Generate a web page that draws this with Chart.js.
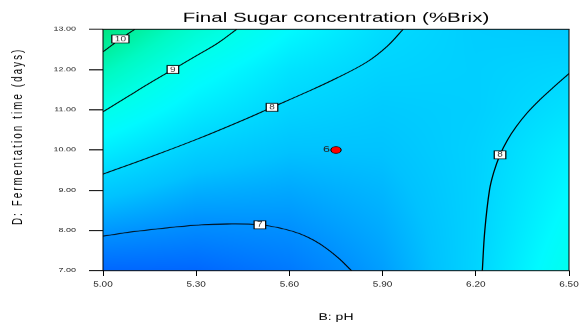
<!DOCTYPE html>
<html>
<head>
<meta charset="utf-8">
<title>Final Sugar concentration (%Brix)</title>
<script src="https://cdn.jsdelivr.net/npm/chart.js@4.4.1/dist/chart.umd.min.js"></script>
<style>
  html, body { margin: 0; padding: 0; background: #fff; overflow: hidden; }
</style>
</head>
<body>
<!-- drawn tall, shown squeezed to 326px like the Design-Expert export -->
<canvas id="sugarChart" width="579" height="489" style="width:579px;height:326px;display:block"></canvas>
<script>
// axis ticks
const phTicks = [5.00, 5.30, 5.60, 5.90, 6.20, 6.50];
const dayTicks = [7, 8, 9, 10, 11, 12, 13];

// contour lines as [pH, days]
const contour10 = [[5.00, 12.44], [5.056, 12.76], [5.102, 13.00]];
const contour9 = [[5.00, 10.95], [5.08, 11.33], [5.15, 11.66], [5.225, 12.00], [5.30, 12.34], [5.37, 12.66], [5.43, 13.00]];
const contour8Upper = [[5.00, 9.40], [5.15, 9.82], [5.30, 10.26], [5.45, 10.74], [5.544, 11.06], [5.65, 11.42],
                       [5.75, 11.78], [5.85, 12.19], [5.915, 12.58], [5.966, 13.00]];
const contour8Right = [[6.221, 7.00], [6.229, 8.00], [6.244, 9.00], [6.258, 9.45], [6.278, 9.88], [6.302, 10.25],
                       [6.33, 10.58], [6.365, 10.92], [6.405, 11.24], [6.45, 11.56], [6.50, 11.90]];
const contour7 = [[5.00, 7.86], [5.10, 7.97], [5.20, 8.06], [5.30, 8.13], [5.40, 8.16], [5.505, 8.14], [5.58, 8.04],
                  [5.633, 7.92], [5.68, 7.75], [5.72, 7.55], [5.76, 7.30], [5.80, 7.00]];

const contourPaths = [contour10, contour9, contour8Upper, contour8Right, contour7];
const contourLevels = [10, 9, 8, 8, 7];
const contourLabelAt = [1, 3, 4, 4, 5];

// design centre point and its replicate count
const centerPoint = [5.75, 10.00];
const centerReplicates = 6;

// predicted %Brix on a coarse B/D grid, used for the shading
const gridPH = [5.0, 5.3, 5.6, 5.9, 6.2, 6.5];
const gridDays = [7, 8, 9, 10, 11, 12, 13];
const brixGrid = [
    [6.44, 6.44, 6.70, 7.19, 7.94, 8.94],
    [7.12, 6.94, 7.01, 7.33, 7.91, 8.75],
    [7.74, 7.39, 7.30, 7.47, 7.90, 8.58],
    [8.39, 7.87, 7.62, 7.62, 7.89, 8.41],
    [9.03, 8.36, 7.94, 7.76, 7.84, 8.17],
    [9.70, 8.80, 8.22, 7.93, 7.85, 7.97],
    [10.38, 9.37, 8.62, 8.09, 7.82, 7.75]
];

// blue -> cyan -> green colour ramp
const shadeLevels = [6.4, 7.0, 7.6, 8.0, 8.6, 9.0, 9.6, 10.0, 10.4];
const shadeColors = [
    [0, 100, 255], [0, 142, 255], [0, 194, 255], [0, 215, 255], [0, 250, 255],
    [0, 255, 235], [0, 250, 195], [0, 240, 160], [0, 228, 128]
];

const FONT = '"Liberation Sans", Arial, sans-serif';

function lerp(a, b, t) {
    return a + (b - a) * t;
}

function findCell(axis, v) {
    let i = 0;
    while (i < axis.length - 2 && v > axis[i + 1]) i++;
    const t = (v - axis[i]) / (axis[i + 1] - axis[i]);
    return [i, Math.min(1, Math.max(0, t))];
}

function brixAt(ph, days) {
    const [i, u] = findCell(gridPH, ph);
    const [j, v] = findCell(gridDays, days);
    const lo = lerp(brixGrid[j][i], brixGrid[j][i + 1], u);
    const hi = lerp(brixGrid[j + 1][i], brixGrid[j + 1][i + 1], u);
    return lerp(lo, hi, v);
}

function shade(value) {
    const [k, t] = findCell(shadeLevels, value);
    return shadeColors[k].map((c, n) => Math.round(lerp(c, shadeColors[k + 1][n], t)));
}

// text with extra room between the letters, centred on (0, 0)
function spacedText(ctx, text, gap) {
    const widths = [...text].map(ch => ctx.measureText(ch).width);
    const total = widths.reduce((s, w) => s + w, 0) + gap * (widths.length - 1);
    let pos = -total / 2;
    [...text].forEach((ch, i) => {
        ctx.fillText(ch, pos, 0);
        pos += widths[i] + gap;
    });
}

// paints the response surface behind the contour lines
const responseShading = {
    id: 'responseShading',
    beforeDatasetsDraw(chart) {
        const { ctx, chartArea: area, scales: { x, y } } = chart;
        const w = Math.round(area.right - area.left);
        const h = Math.round(area.bottom - area.top);
        const off = document.createElement('canvas');
        off.width = w;
        off.height = h;
        const octx = off.getContext('2d');
        const img = octx.createImageData(w, h);
        for (let py = 0; py < h; py++) {
            const days = y.getValueForPixel(area.top + py + 0.5);
            for (let px = 0; px < w; px++) {
                const ph = x.getValueForPixel(area.left + px + 0.5);
                const rgb = shade(brixAt(ph, days));
                const o = (py * w + px) * 4;
                img.data[o] = rgb[0];
                img.data[o + 1] = rgb[1];
                img.data[o + 2] = rgb[2];
                img.data[o + 3] = 255;
            }
        }
        octx.putImageData(img, 0, 0);
        ctx.drawImage(off, area.left, area.top);
    }
};

// frame, contour labels, replicate count and the vertical axis title
const plotDecorations = {
    id: 'plotDecorations',
    afterDatasetsDraw(chart) {
        const { ctx, chartArea: a, scales: { x, y } } = chart;
        const seg = (x1, y1, x2, y2) => {
            ctx.beginPath();
            ctx.moveTo(x1, y1);
            ctx.lineTo(x2, y2);
            ctx.stroke();
        };
        ctx.save();
        ctx.strokeStyle = '#000';
        ctx.lineWidth = 1.5;
        seg(a.left - 0.5, a.top, a.right + 0.5, a.top);
        seg(a.left - 0.5, a.bottom, a.right + 0.5, a.bottom);
        ctx.lineWidth = 1;
        seg(a.left, a.top, a.left, a.bottom);
        seg(a.right, a.top, a.right, a.bottom);

        ctx.font = '10px ' + FONT;
        ctx.textAlign = 'center';
        ctx.textBaseline = 'middle';
        contourPaths.forEach((path, k) => {
            const [ph, days] = path[contourLabelAt[k]];
            const px = x.getPixelForValue(ph);
            const py = y.getPixelForValue(days);
            const text = String(contourLevels[k]);
            const bw = ctx.measureText(text).width + 6;
            const bh = 12;
            ctx.fillStyle = '#fff';
            ctx.fillRect(px - bw / 2, py - bh / 2, bw, bh);
            ctx.lineWidth = 1.2;
            ctx.strokeRect(px - bw / 2, py - bh / 2, bw, bh);
            ctx.fillStyle = '#333';
            ctx.fillText(text, px, py + 0.5);
        });

        ctx.font = '12.5px ' + FONT;
        ctx.textAlign = 'right';
        ctx.fillStyle = '#222';
        ctx.fillText(String(centerReplicates),
            x.getPixelForValue(centerPoint[0]) - 6, y.getPixelForValue(centerPoint[1]));

        ctx.translate(18, 206);
        ctx.rotate(-Math.PI / 2);
        ctx.font = '14.5px ' + FONT;
        ctx.textAlign = 'left';
        ctx.fillStyle = '#000';
        spacedText(ctx, 'D: Fermentation time (days)', 3.2);
        ctx.restore();
    }
};

const contourSets = contourPaths.map(path => ({
    data: path.map(([ph, days]) => ({ x: ph, y: days })),
    showLine: true,
    borderColor: '#000',
    borderWidth: 1.3,
    pointRadius: 0,
    tension: 0.4
}));

new Chart(document.getElementById('sugarChart'), {
    type: 'scatter',
    data: {
        datasets: [
            ...contourSets,
            {
                data: [{ x: centerPoint[0], y: centerPoint[1] }],
                pointRadius: 5.2,
                pointBackgroundColor: '#ff0000',
                pointBorderColor: '#000',
                pointBorderWidth: 1
            }
        ]
    },
    options: {
        responsive: false,
        devicePixelRatio: 1,
        animation: false,
        events: [],
        layout: { padding: { left: 0, right: 10, top: 0, bottom: 0 } },
        plugins: {
            legend: { display: false },
            tooltip: { enabled: false },
            title: {
                display: true,
                fullSize: false,
                text: 'Final Sugar concentration (%Brix)',
                color: '#000',
                font: { family: FONT, size: 20.5, weight: 'normal' },
                padding: { top: 15.4, bottom: 4 }
            }
        },
        scales: {
            x: {
                type: 'linear',
                min: 5.0,
                max: 6.5,
                afterBuildTicks: scale => { scale.ticks = phTicks.map(v => ({ value: v })); },
                afterFit: scale => {
                    scale.height = 83;
                    // the last tick label may hang past the plot edge
                    scale.paddingLeft = 0;
                    scale.paddingRight = 0;
                },
                border: { display: false },
                grid: { drawOnChartArea: false, drawTicks: true, tickLength: 8, color: '#000', lineWidth: 1 },
                ticks: {
                    color: '#222',
                    padding: 7,
                    maxRotation: 0,
                    autoSkip: false,
                    font: { family: FONT, size: 10 },
                    callback: v => v.toFixed(2)
                },
                title: {
                    display: true,
                    text: 'B: pH',
                    color: '#000',
                    font: { family: FONT, size: 14 },
                    padding: { top: 0, bottom: 4.6 }
                }
            },
            y: {
                type: 'linear',
                min: 7,
                max: 13,
                afterBuildTicks: scale => { scale.ticks = dayTicks.map(v => ({ value: v })); },
                afterFit: scale => { scale.width = 103; },
                border: { display: false },
                grid: { drawOnChartArea: false, drawTicks: true, tickLength: 14, color: '#000', lineWidth: 1.5 },
                ticks: {
                    color: '#222',
                    padding: 13,
                    autoSkip: false,
                    font: { family: FONT, size: 9 },
                    callback: v => v.toFixed(2)
                }
            }
        }
    },
    plugins: [responseShading, plotDecorations]
});
</script>
</body>
</html>
